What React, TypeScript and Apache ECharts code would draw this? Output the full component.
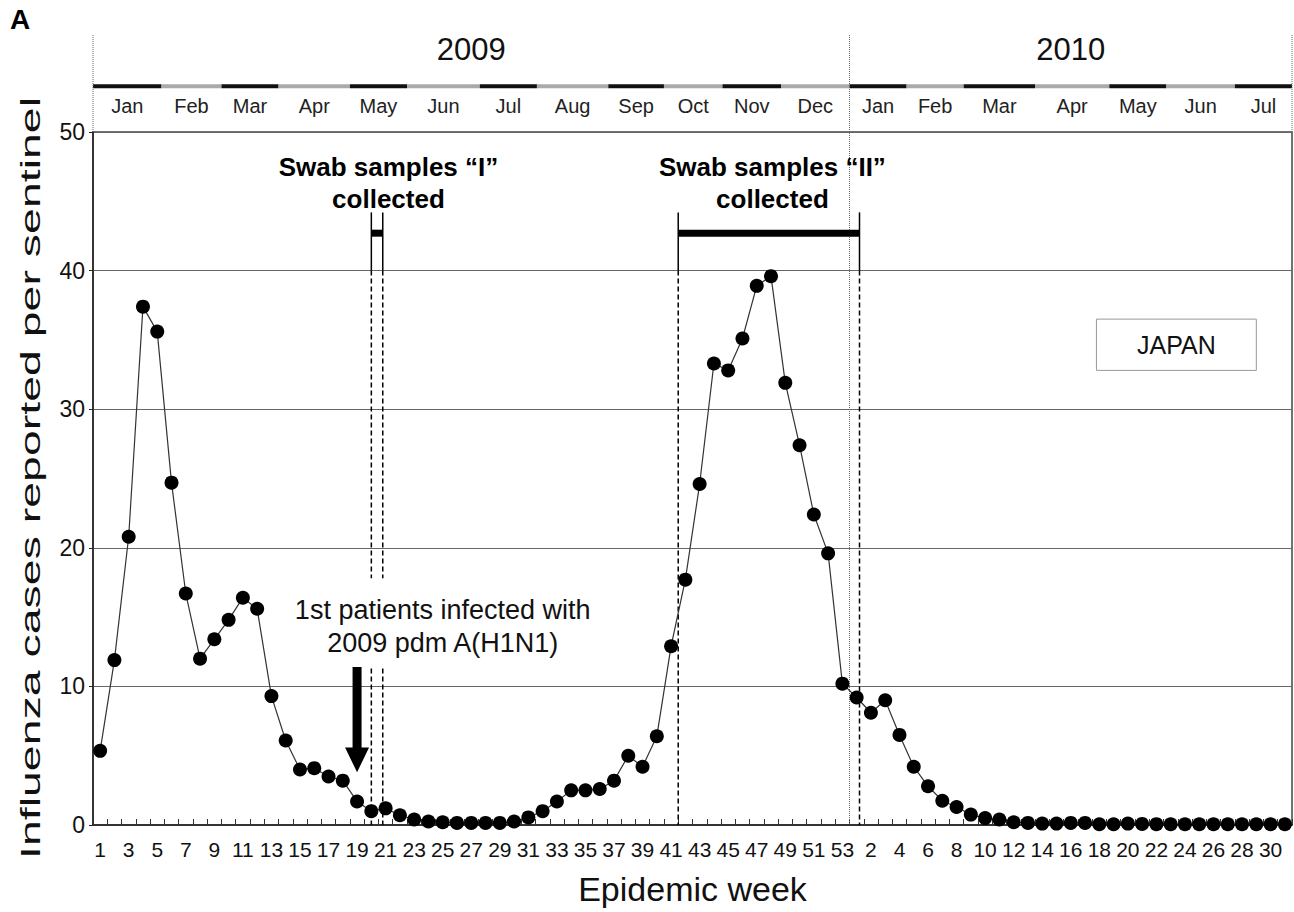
import React, { useEffect, useRef } from "react";
import * as echarts from "echarts";

// ---- data ----
const weeks2009 = [
  1, 2, 3, 4, 5, 6, 7, 8, 9, 10, 11, 12, 13, 14, 15, 16, 17, 18, 19, 20, 21, 22, 23, 24, 25, 26, 27,
  28, 29, 30, 31, 32, 33, 34, 35, 36, 37, 38, 39, 40, 41, 42, 43, 44, 45, 46, 47, 48, 49, 50, 51, 52, 53,
];
const weeks2010 = [
  1, 2, 3, 4, 5, 6, 7, 8, 9, 10, 11, 12, 13, 14, 15, 16, 17, 18, 19, 20, 21, 22, 23, 24, 25, 26, 27,
  28, 29, 30, 31,
];
const cases2009 = [
  5.35, 11.9, 20.8, 37.4, 35.6, 24.7, 16.7, 12.0, 13.4, 14.8, 16.4, 15.6, 9.3, 6.1, 4.0, 4.1, 3.5, 3.2,
  1.7, 1.0, 1.2, 0.7, 0.4, 0.25, 0.2, 0.15, 0.15, 0.15, 0.15, 0.25, 0.55, 1.0, 1.7, 2.5, 2.5, 2.6, 3.2,
  5.0, 4.2, 6.4, 12.9, 17.7, 24.6, 33.3, 32.8, 35.1, 38.9, 39.6, 31.9, 27.4, 22.4, 19.6, 10.2,
];
const cases2010 = [
  9.2, 8.1, 9.0, 6.5, 4.2, 2.8, 1.75, 1.3, 0.75, 0.5, 0.4, 0.2, 0.15, 0.1, 0.1, 0.15, 0.15, 0.05, 0.05,
  0.1, 0.08, 0.06, 0.05, 0.05, 0.05, 0.05, 0.05, 0.05, 0.05, 0.05, 0.05,
];
const yearNames = ["2009", "2010"];
const monthNames = [
  "Jan", "Feb", "Mar", "Apr", "May", "Jun", "Jul", "Aug", "Sep", "Oct", "Nov", "Dec",
  "Jan", "Feb", "Mar", "Apr", "May", "Jun", "Jul",
];
// month boundaries in week units (0 = left edge of week 1, 2009)
const monthEdges = [0, 4.8, 9, 13, 18, 22, 27.1, 31.1, 36.1, 40, 44.1, 48.2, 53, 57, 61, 66, 71.2, 75.2, 80, 84];
const yearEdges = [0, 53, 84];
const swabI = [19.5, 20.3];
const swabII = [41.0, 53.7];
const firstPatientWeek = 18.5; // centre of week 19 (2009)
const yTicks = [0, 10, 20, 30, 40, 50];

const categories = [
  ...weeks2009.map((w) => "2009-" + w),
  ...weeks2010.map((w) => "2010-" + w),
];
const values = [...cases2009, ...cases2010];

const FONT = "'Liberation Sans', Arial, Helvetica, sans-serif";

export default function App() {
  const ref = useRef<HTMLDivElement>(null);
  useEffect(() => {
    document.body.style.margin = "0";
    const chart = echarts.init(ref.current!, null, { renderer: "svg" });
    const total = categories.length;

    const renderItem = (params: any, api: any) => {
      const c = (u: number, v: number) => api.coord([u, v]);
      const ch: any[] = [];
      const black = "#000";
      // header: month band and labels
      for (let i = 0; i < monthNames.length; i++) {
        const a = c(monthEdges[i], 53.3);
        const b = c(monthEdges[i + 1], 53.3);
        ch.push({
          type: "rect",
          shape: { x: a[0], y: a[1] - 2, width: b[0] - a[0], height: 4 },
          style: { fill: i % 2 === 0 ? "#111" : "#aaa" },
        });
        const m = c((monthEdges[i] + monthEdges[i + 1]) / 2, 51.9);
        ch.push({
          type: "text",
          style: {
            text: monthNames[i], x: m[0], y: m[1], align: "center", verticalAlign: "middle",
            fontSize: 20, fontFamily: FONT, fill: "#222",
          },
        });
      }
      for (let i = 0; i < yearNames.length; i++) {
        const m = c((yearEdges[i] + yearEdges[i + 1]) / 2, 55.95);
        ch.push({
          type: "text",
          style: {
            text: yearNames[i], x: m[0], y: m[1], align: "center", verticalAlign: "middle",
            fontSize: 31, fontFamily: FONT, fill: "#111",
          },
        });
      }
      yearEdges.forEach((e, i) => {
        const top = c(e, 57);
        const bot = c(e, i === 1 ? 0 : 50);
        ch.push({
          type: "line",
          shape: { x1: top[0], y1: top[1], x2: bot[0], y2: bot[1] },
          style: { stroke: "#666", lineWidth: 1, lineDash: [1, 1] },
        });
      });
      // swab collection bars
      const bars = [swabI, swabII];
      bars.forEach((s, k) => {
        const l = c(s[0], 42.7);
        const r = c(s[1], 42.7);
        ch.push({
          type: "line",
          shape: { x1: l[0], y1: l[1], x2: r[0], y2: r[1] },
          style: { stroke: black, lineWidth: 7 },
        });
        s.forEach((u) => {
          const t = c(u, 44.2);
          const g = c(u, 40);
          ch.push({
            type: "line",
            shape: { x1: t[0], y1: t[1], x2: g[0], y2: g[1] },
            style: { stroke: black, lineWidth: 1.5 },
          });
          const segs = k === 0 ? [[40, 17.8], [11.3, 0]] : [[40, 0]];
          segs.forEach((sg) => {
            const p = c(u, sg[0]);
            const q = c(u, sg[1]);
            ch.push({
              type: "line",
              shape: { x1: p[0], y1: p[1], x2: q[0], y2: q[1] },
              style: { stroke: black, lineWidth: 1.5, lineDash: [5, 3] },
            });
          });
        });
      });
      // swab titles
      const t1 = c(20.7, 46.35);
      const t2 = c(47.6, 46.35);
      [t1, t2].forEach((p, i) => {
        ch.push({
          type: "text",
          style: {
            text: i === 0 ? "Swab samples \u201cI\u201d\ncollected" : "Swab samples \u201cII\u201d\ncollected",
            x: p[0], y: p[1], align: "center", verticalAlign: "middle",
            fontSize: 26, fontWeight: "bold", fontFamily: FONT, fill: "#000", lineHeight: 32,
          },
        });
      });
      // first patients annotation
      const ta = c(24.5, 14.35);
      ch.push({
        type: "text",
        style: {
          text: "1st patients infected with\n2009 pdm A(H1N1)",
          x: ta[0], y: ta[1], align: "center", verticalAlign: "middle",
          fontSize: 27, fontFamily: FONT, fill: "#111", lineHeight: 33,
        },
      });
      const aTop = c(firstPatientWeek, 11.4);
      const aNeck = c(firstPatientWeek, 5.6);
      const aTip = c(firstPatientWeek, 3.8);
      const x0 = aTop[0];
      ch.push({
        type: "polygon",
        shape: {
          points: [
            [x0 - 4.5, aTop[1]], [x0 + 4.5, aTop[1]], [x0 + 4.5, aNeck[1]], [x0 + 12, aNeck[1]],
            [x0, aTip[1]], [x0 - 12, aNeck[1]], [x0 - 4.5, aNeck[1]],
          ],
        },
        style: { fill: "#000" },
      });
      // JAPAN box
      const b0 = c(70.3, 36.5);
      const b1 = c(81.5, 32.8);
      ch.push({
        type: "rect",
        shape: { x: b0[0], y: b0[1], width: b1[0] - b0[0], height: b1[1] - b0[1] },
        style: { fill: "#fff", stroke: "#999", lineWidth: 1 },
      });
      ch.push({
        type: "text",
        style: {
          text: "JAPAN", x: (b0[0] + b1[0]) / 2, y: (b0[1] + b1[1]) / 2, align: "center",
          verticalAlign: "middle", fontSize: 25, fontFamily: FONT, fill: "#111",
        },
      });
      return { type: "group", children: ch };
    };

    chart.setOption({
      animation: false,
      backgroundColor: "#fff",
      textStyle: { fontFamily: FONT },
      graphic: [
        {
          type: "text", left: 10, top: 5,
          style: { text: "A", fontSize: 28, fontWeight: "bold", fontFamily: FONT, fill: "#000" },
        },
        {
          type: "text", x: 30, y: 478, rotation: Math.PI / 2, scaleX: 1.66,
          style: {
            text: "Influenza cases reported per sentinel", fontSize: 28, fontFamily: FONT,
            fill: "#111", align: "center", verticalAlign: "middle",
          },
        },
      ],
      grid: {
        left: 93, top: 132, width: 1199, height: 693, show: true,
        borderColor: "#444", borderWidth: 1.5, backgroundColor: "transparent",
      },
      xAxis: [
        {
          type: "category",
          data: categories,
          boundaryGap: true,
          axisLine: { lineStyle: { color: "#222", width: 1.5 } },
          axisTick: { show: true, inside: true, interval: 0, length: 6, lineStyle: { color: "#333" } },
          axisLabel: {
            interval: 1, fontSize: 21, color: "#111", margin: 14, fontFamily: FONT,
            formatter: (v: string) => v.split("-")[1],
          },
          name: "Epidemic week",
          nameLocation: "middle",
          nameGap: 47,
          nameTextStyle: { fontSize: 34, color: "#111", fontFamily: FONT },
        },
        { type: "value", min: 0, max: total, show: false, position: "bottom" },
      ],
      yAxis: {
        type: "value",
        min: yTicks[0],
        max: yTicks[yTicks.length - 1],
        interval: 10,
        axisLine: { show: true, lineStyle: { color: "#222", width: 1.5 } },
        axisTick: { show: true, length: 4, lineStyle: { color: "#222" } },
        axisLabel: { fontSize: 23, color: "#111", margin: 8, fontFamily: FONT },
        splitLine: { lineStyle: { color: "#666", width: 1 } },
      },
      series: [
        {
          type: "custom",
          xAxisIndex: 1,
          yAxisIndex: 0,
          clip: false,
          silent: true,
          z: 1,
          data: [[0, 0]],
          renderItem,
        },
        {
          type: "line",
          xAxisIndex: 0,
          data: values,
          symbol: "circle",
          symbolSize: 14,
          showAllSymbol: true,
          itemStyle: { color: "#000" },
          lineStyle: { color: "#333", width: 1.2 },
          z: 3,
        },
      ],
    });
    return () => chart.dispose();
  }, []);
  return <div ref={ref} style={{ width: 1294, height: 912 }} />;
}
